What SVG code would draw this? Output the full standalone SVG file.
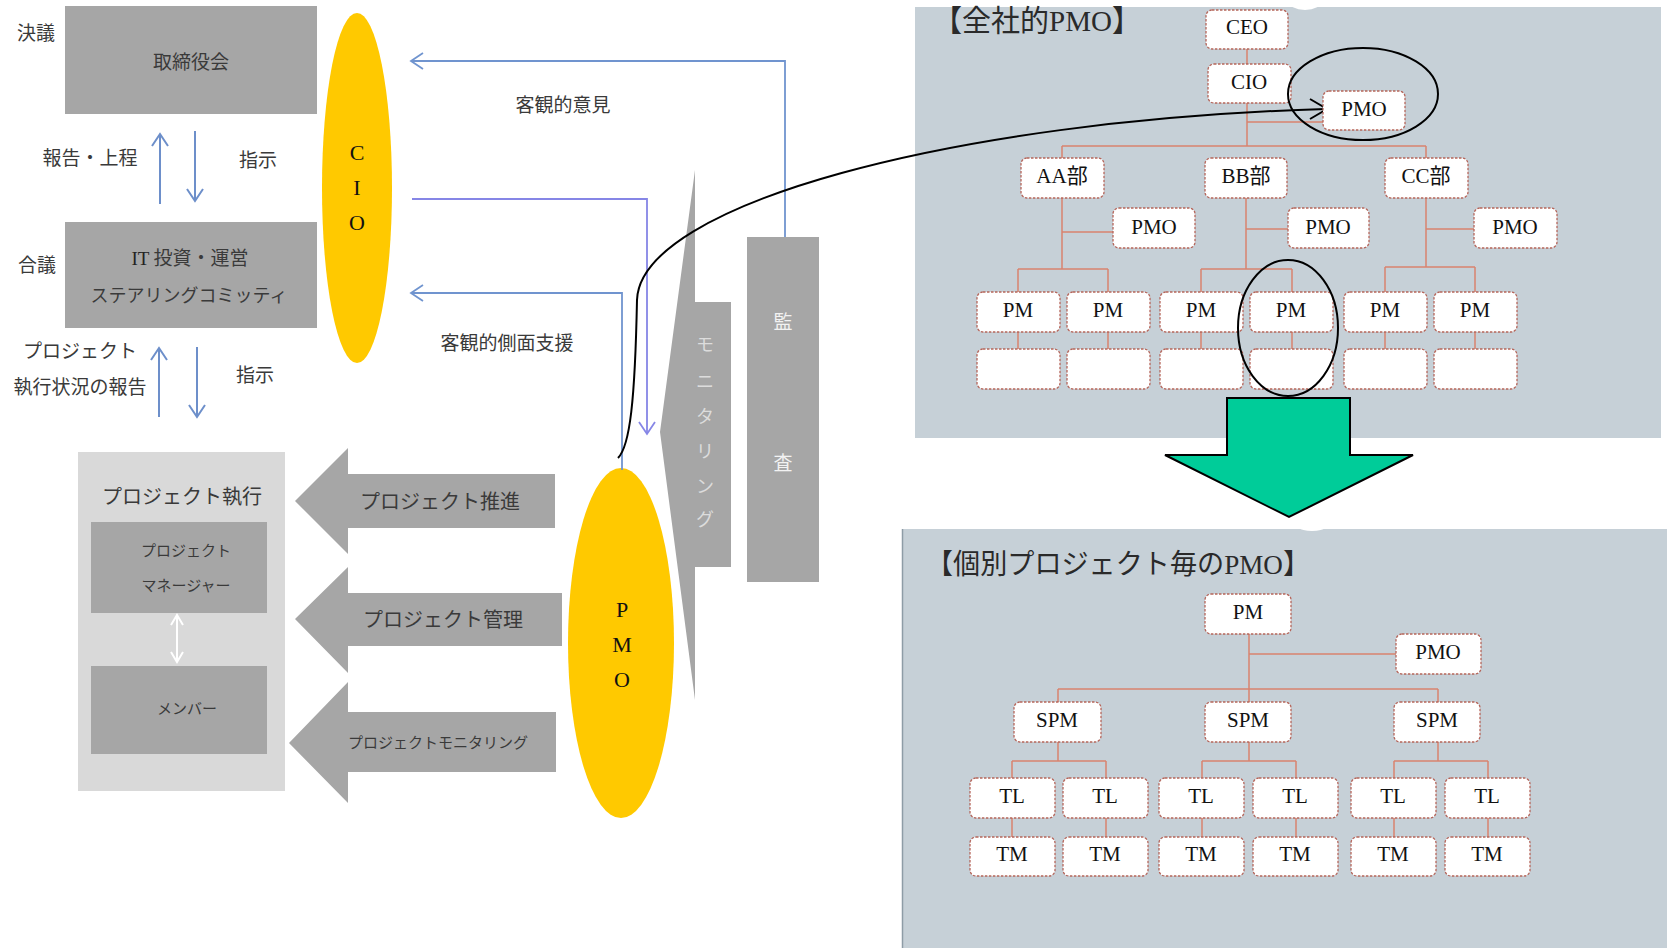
<svg xmlns="http://www.w3.org/2000/svg" width="1667" height="948" viewBox="0 0 1667 948">
<style>
.jp{font-family:"Noto Sans CJK JP","Liberation Sans",sans-serif;fill:#3a3a3a;text-anchor:middle}
.s19{font-size:19px}.s20{font-size:20px}.s18{font-size:18px}.s15{font-size:15px}
.ser{font-family:"Liberation Serif","Noto Sans CJK JP",serif;font-size:22px;fill:#111;text-anchor:middle}
.gbox{fill:#a6a6a6}
.blue{fill:none;stroke:#7094cf;stroke-width:1.8}
.purple{fill:none;stroke:#8686e6;stroke-width:1.8}
.larr{fill:none;stroke:#6d8fca;stroke-width:2}
.wtxt{font-family:"Noto Sans CJK JP",sans-serif;font-size:19px;fill:#f2f2f2;text-anchor:middle}
.mtxt{font-family:"Noto Sans CJK JP",sans-serif;font-size:18px;fill:#dcdcdc;text-anchor:middle}
.panel{fill:#c6d0d7}
.nb{fill:#fff;stroke:#b5655a;stroke-width:1.3;stroke-dasharray:2.5 1.5}
.nt{font-family:"Liberation Serif",serif;font-size:21px;fill:#111;text-anchor:middle}
.ntj{font-family:"Liberation Serif","Noto Sans CJK JP",serif;font-size:21px;fill:#111;text-anchor:middle}
.ln{fill:none;stroke:#d9826f;stroke-width:1.5}
.title{font-family:"Liberation Serif","Noto Sans CJK JP",serif;fill:#2a2a2a}
</style>

<!-- Left: governance -->
<g id="torishimariyakukai">
<rect class="gbox" x="65" y="6" width="252" height="108"/>
<text class="jp s19" x="191" y="69">取締役会</text>
</g>
<g id="label-ketsugi"><text class="jp s19" x="36" y="40">決議</text></g>
<g id="steering">
<rect class="gbox" x="65" y="222" width="252" height="106"/>
<text class="jp s19" x="190" y="265"><tspan font-family="Liberation Serif" fill="#222">IT</tspan> 投資・運営</text>
<text class="jp s18" x="189" y="302">ステアリングコミッティ</text>
</g>
<g id="label-gougi"><text class="jp s19" x="37" y="272">合議</text></g>
<g id="labels-left">
<text class="jp s19" x="90" y="165">報告・上程</text>
<text class="jp s19" x="258" y="167">指示</text>
<text class="jp s19" x="80" y="358">プロジェクト</text>
<text class="jp s19" x="80" y="394">執行状況の報告</text>
<text class="jp s19" x="255" y="382">指示</text>
<text class="jp s19" x="563" y="112">客観的意見</text>
<text class="jp s19" x="507" y="350">客観的側面支援</text>
</g>

<g id="cio">
<ellipse cx="357" cy="188" rx="35" ry="175" fill="#ffc900"/>
<text class="ser" x="357" y="160">C</text>
<text class="ser" x="357" y="195">I</text>
<text class="ser" x="357" y="230">O</text>
</g>

<g id="project-exec">
<rect x="78" y="452" width="207" height="339" fill="#d9d9d9"/>
<text class="jp s20" x="182" y="504">プロジェクト執行</text>
<rect class="gbox" x="91" y="522" width="176" height="91"/>
<text class="jp s15" x="186" y="556">プロジェクト</text>
<text class="jp s15" x="186" y="591">マネージャー</text>
<rect class="gbox" x="91" y="666" width="176" height="88"/>
<text class="jp s15" x="187" y="714">メンバー</text>
<g fill="none" stroke="#fff" stroke-width="2">
<line x1="177" y1="615" x2="177" y2="662"/>
<polyline points="171,625 177,615 183,625"/>
<polyline points="171,652 177,662 183,652"/>
</g>
</g>

<g id="arrow-suishin">
<polygon class="gbox" points="295,501 348,448 348,474 555,474 555,528 348,528 348,554"/>
<text class="jp s20" x="440" y="509">プロジェクト推進</text>
</g>
<g id="arrow-kanri">
<polygon class="gbox" points="295,619 348,567 348,593 562,593 562,646 348,646 348,673"/>
<text class="jp s20" x="443" y="627">プロジェクト管理</text>
</g>
<g id="arrow-monitoring">
<polygon class="gbox" points="289,743 348,682 348,712 556,712 556,772 348,772 348,803"/>
<text class="jp s15" x="438" y="748">プロジェクトモニタリング</text>
</g>

<g id="monitoring">
<polygon class="gbox" points="695,170 695,302 731,302 731,567 695,567 695,700 660,432"/>
<text class="mtxt" x="705" y="351">モ</text>
<text class="mtxt" x="705" y="388">ニ</text>
<text class="mtxt" x="705" y="423">タ</text>
<text class="mtxt" x="705" y="458">リ</text>
<text class="mtxt" x="705" y="493">ン</text>
<text class="mtxt" x="705" y="526">グ</text>
</g>

<g id="kansa">
<rect class="gbox" x="747" y="237" width="72" height="345"/>
<text class="wtxt" x="783" y="329">監</text>
<text class="wtxt" x="783" y="470">査</text>
</g>

<g id="pmo">
<ellipse cx="621" cy="643" rx="53" ry="175" fill="#ffc900"/>
<text class="ser" x="622" y="617">P</text>
<text class="ser" x="622" y="652">M</text>
<text class="ser" x="622" y="687">O</text>
</g>

<!-- Right: company-wide PMO -->
<g id="panel-top">
<rect class="panel" x="915" y="7" width="746" height="431"/>
<ellipse cx="1305" cy="1" rx="17" ry="9" fill="#fff"/>
<text class="title" x="933" y="31" font-size="30" textLength="208" lengthAdjust="spacingAndGlyphs">【全社的PMO】</text>
</g>

<g id="panel-bottom">
<rect class="panel" x="902" y="529" width="765" height="419"/>
<line x1="902.5" y1="529" x2="902.5" y2="948" stroke="#8e9ca6" stroke-width="1.5"/>
<ellipse cx="1312" cy="528" rx="12" ry="3" fill="#fff"/>
<text class="title" x="926" y="574" font-size="28" textLength="384" lengthAdjust="spacingAndGlyphs">【個別プロジェクト毎のPMO】</text>
</g>

<g id="connectors">
<!-- left vertical arrows -->
<line class="larr" x1="160" y1="204" x2="160" y2="134"/><polyline class="larr" points="152,146 160,134 168,146"/>
<line class="larr" x1="195" y1="131" x2="195" y2="201"/><polyline class="larr" points="187,189 195,201 203,189"/>
<line class="larr" x1="159" y1="417" x2="159" y2="348"/><polyline class="larr" points="151,360 159,348 167,360"/>
<line class="larr" x1="197" y1="347" x2="197" y2="417"/><polyline class="larr" points="189,405 197,417 205,405"/>
<!-- kansa -> CIO -->
<polyline class="blue" points="785,237 785,61 411,61"/><polyline class="blue" points="423,53 411,61 423,69"/>
<!-- CIO -> PMO -->
<polyline class="purple" points="412,199 647,199 647,434"/><polyline class="purple" points="639,422 647,434 655,422"/>
<!-- PMO -> CIO -->
<polyline class="blue" points="622,470 622,293 411,293"/><polyline class="blue" points="423,285 411,293 423,301"/>

<!-- top org chart lines -->
<path class="ln" d="M1247,49V64M1247,103V146M1247,122H1323M1062,146H1426M1062,146V158M1426,146V158
M1062,198V269M1062,232H1113M1018,269H1108M1018,269V292M1108,269V292
M1246,198V269M1246,229H1288M1201,269H1292M1201,269V292M1292,269V292
M1426,198V267M1426,229H1474M1385,267H1475M1385,267V292M1475,267V292
M1018,332V349M1108,332V349M1201,332V349M1292,332V349M1385,332V349M1475,332V349"/>

<!-- bottom org chart lines -->
<path class="ln" d="M1249,634V702M1249,654H1396M1058,689H1438M1058,689V702M1438,689V702
M1058,742V761M1249,742V761M1438,742V761
M1012,761H1106M1012,761V778M1106,761V778
M1202,761H1296M1202,761V778M1296,761V778
M1394,761H1488M1394,761V778M1488,761V778
M1012,818V837M1106,818V837M1202,818V837M1296,818V837M1394,818V837M1488,818V837"/>

<!-- curve PMO -> company PMO -->
<path d="M618,458 C630,446 635,400 637,300 C640,205 950,120 1326,109" fill="none" stroke="#000" stroke-width="2"/>
<polyline points="1310,99 1327,109 1310,119" fill="none" stroke="#000" stroke-width="2"/>
</g>

<g id="node-ceo"><rect class="nb" x="1206" y="10" width="82" height="39" rx="6"/><text class="nt" x="1247" y="34">CEO</text></g>
<g id="node-cio"><rect class="nb" x="1208" y="64" width="83" height="39" rx="6"/><text class="nt" x="1249" y="89">CIO</text></g>
<g id="node-pmo-top"><rect class="nb" x="1323" y="91" width="82" height="39" rx="6"/><text class="nt" x="1364" y="116">PMO</text></g>
<g id="node-aa"><rect class="nb" x="1021" y="158" width="83" height="40" rx="6"/><text class="ntj" x="1062" y="183">AA部</text></g>
<g id="node-bb"><rect class="nb" x="1205" y="158" width="82" height="40" rx="6"/><text class="ntj" x="1246" y="183">BB部</text></g>
<g id="node-cc"><rect class="nb" x="1385" y="158" width="83" height="40" rx="6"/><text class="ntj" x="1426" y="183">CC部</text></g>
<g id="node-pmo-a"><rect class="nb" x="1113" y="208" width="82" height="40" rx="6"/><text class="nt" x="1154" y="234">PMO</text></g>
<g id="node-pmo-b"><rect class="nb" x="1288" y="208" width="81" height="40" rx="6"/><text class="nt" x="1328" y="234">PMO</text></g>
<g id="node-pmo-c"><rect class="nb" x="1474" y="208" width="83" height="40" rx="6"/><text class="nt" x="1515" y="234">PMO</text></g>
<g id="node-pm1"><rect class="nb" x="977" y="292" width="83" height="40" rx="6"/><text class="nt" x="1018" y="317">PM</text></g>
<g id="node-pm2"><rect class="nb" x="1067" y="292" width="83" height="40" rx="6"/><text class="nt" x="1108" y="317">PM</text></g>
<g id="node-pm3"><rect class="nb" x="1160" y="292" width="83" height="40" rx="6"/><text class="nt" x="1201" y="317">PM</text></g>
<g id="node-pm4"><rect class="nb" x="1250" y="292" width="83" height="40" rx="6"/><text class="nt" x="1291" y="317">PM</text></g>
<g id="node-pm5"><rect class="nb" x="1344" y="292" width="83" height="40" rx="6"/><text class="nt" x="1385" y="317">PM</text></g>
<g id="node-pm6"><rect class="nb" x="1434" y="292" width="83" height="40" rx="6"/><text class="nt" x="1475" y="317">PM</text></g>
<g id="node-e1"><rect class="nb" x="977" y="349" width="83" height="40" rx="6"/></g>
<g id="node-e2"><rect class="nb" x="1067" y="349" width="83" height="40" rx="6"/></g>
<g id="node-e3"><rect class="nb" x="1160" y="349" width="83" height="40" rx="6"/></g>
<g id="node-e4"><rect class="nb" x="1250" y="349" width="83" height="40" rx="6"/></g>
<g id="node-e5"><rect class="nb" x="1344" y="349" width="83" height="40" rx="6"/></g>
<g id="node-e6"><rect class="nb" x="1434" y="349" width="83" height="40" rx="6"/></g>

<g id="highlight-circles" fill="none" stroke="#000" stroke-width="2">
<ellipse cx="1363" cy="94" rx="75" ry="46"/>
<ellipse cx="1288" cy="328" rx="50" ry="68"/>
</g>

<g id="green-arrow">
<polygon points="1227,398 1350,398 1350,455 1413,455 1289,517 1165,455 1227,455" fill="#00cc99" stroke="#000" stroke-width="2"/>
</g>

<g id="node-b-pm"><rect class="nb" x="1205" y="594" width="86" height="40" rx="6"/><text class="nt" x="1248" y="619">PM</text></g>
<g id="node-b-pmo"><rect class="nb" x="1396" y="634" width="85" height="40" rx="6"/><text class="nt" x="1438" y="659">PMO</text></g>
<g id="node-spm1"><rect class="nb" x="1014" y="702" width="87" height="40" rx="6"/><text class="nt" x="1057" y="727">SPM</text></g>
<g id="node-spm2"><rect class="nb" x="1205" y="702" width="86" height="40" rx="6"/><text class="nt" x="1248" y="727">SPM</text></g>
<g id="node-spm3"><rect class="nb" x="1394" y="702" width="86" height="40" rx="6"/><text class="nt" x="1437" y="727">SPM</text></g>
<g id="node-tl1"><rect class="nb" x="970" y="778" width="85" height="40" rx="6"/><text class="nt" x="1012" y="803">TL</text></g>
<g id="node-tl2"><rect class="nb" x="1063" y="778" width="85" height="40" rx="6"/><text class="nt" x="1105" y="803">TL</text></g>
<g id="node-tl3"><rect class="nb" x="1159" y="778" width="85" height="40" rx="6"/><text class="nt" x="1201" y="803">TL</text></g>
<g id="node-tl4"><rect class="nb" x="1253" y="778" width="85" height="40" rx="6"/><text class="nt" x="1295" y="803">TL</text></g>
<g id="node-tl5"><rect class="nb" x="1351" y="778" width="85" height="40" rx="6"/><text class="nt" x="1393" y="803">TL</text></g>
<g id="node-tl6"><rect class="nb" x="1445" y="778" width="85" height="40" rx="6"/><text class="nt" x="1487" y="803">TL</text></g>
<g id="node-tm1"><rect class="nb" x="970" y="837" width="85" height="39" rx="6"/><text class="nt" x="1012" y="861">TM</text></g>
<g id="node-tm2"><rect class="nb" x="1063" y="837" width="85" height="39" rx="6"/><text class="nt" x="1105" y="861">TM</text></g>
<g id="node-tm3"><rect class="nb" x="1159" y="837" width="85" height="39" rx="6"/><text class="nt" x="1201" y="861">TM</text></g>
<g id="node-tm4"><rect class="nb" x="1253" y="837" width="85" height="39" rx="6"/><text class="nt" x="1295" y="861">TM</text></g>
<g id="node-tm5"><rect class="nb" x="1351" y="837" width="85" height="39" rx="6"/><text class="nt" x="1393" y="861">TM</text></g>
<g id="node-tm6"><rect class="nb" x="1445" y="837" width="85" height="39" rx="6"/><text class="nt" x="1487" y="861">TM</text></g>
</svg>
